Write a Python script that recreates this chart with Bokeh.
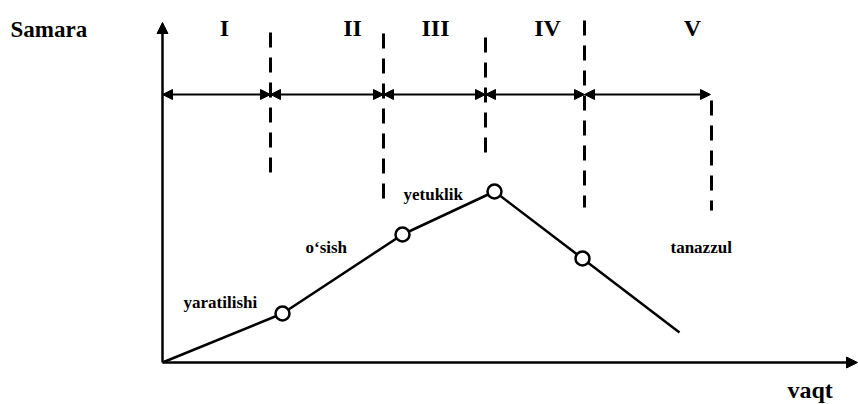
from bokeh.plotting import figure
from bokeh.models import Range1d, Arrow, NormalHead, Label, ColumnDataSource
from bokeh.embed import file_html
from bokeh.resources import INLINE

# ---- data (time units, effect units) ----
stage_labels = ["I", "II", "III", "IV", "V"]
stage_label_x = [6.2, 19.0, 27.3, 38.5, 53.0]
boundaries = [0.0, 10.8, 22.1, 32.3, 42.2, 54.8]
dash_x = [10.8, 22.1, 32.3, 42.2, 54.9]
dash_top = [33.0, 32.9, 32.5, 34.2, 26.2]
dash_bottom = [18.7, 15.5, 20.2, 15.5, 15.2]
arrow_level = 26.8

curve_t = [0.0, 12.0, 24.0, 33.2, 42.0, 51.7]
curve_effect = [0.0, 4.9, 12.8, 17.1, 10.4, 3.0]
marker_t = [12.0, 24.0, 33.2, 42.0]
marker_effect = [4.9, 12.8, 17.1, 10.4]

phase_names = ["yaratilishi", "o\u2018sish", "yetuklik", "tanazzul"]
phase_x = [2.1, 14.3, 24.1, 50.8]
phase_y = [6.0, 11.5, 16.8, 11.5]

y_axis_top = 34.0
x_axis_end = 69.5

FONT = "Liberation Serif"

p = figure(width=858, height=404, output_backend="svg", toolbar_location=None,
           x_range=Range1d(-16.2, 69.6), y_range=Range1d(-4.2, 36.2),
           x_axis_type=None, y_axis_type=None, min_border=0)
p.grid.visible = False
p.outline_line_color = None
p.background_fill_color = "white"
p.border_fill_color = "white"

# axes as arrows
p.add_layout(Arrow(end=NormalHead(size=11, fill_color="black", line_color="black"),
                   x_start=0, y_start=0, x_end=0, y_end=y_axis_top,
                   line_width=2.5, line_color="black"))
p.add_layout(Arrow(end=NormalHead(size=11, fill_color="black", line_color="black"),
                   x_start=0, y_start=0, x_end=x_axis_end, y_end=0,
                   line_width=2.5, line_color="black"))

# dashed stage boundaries
p.segment(x0=dash_x, y0=dash_top, x1=dash_x, y1=dash_bottom,
          line_color="black", line_width=3, line_dash="15 10")

# double-headed interval arrows
src = ColumnDataSource(dict(xs=boundaries[:-1], xe=boundaries[1:],
                            ys=[arrow_level] * (len(boundaries) - 1),
                            ye=[arrow_level] * (len(boundaries) - 1)))
p.add_layout(Arrow(start=NormalHead(size=10, fill_color="black", line_color="black"),
                   end=NormalHead(size=10, fill_color="black", line_color="black"),
                   x_start="xs", y_start="ys", x_end="xe", y_end="ye", source=src,
                   line_width=2.2, line_color="black"))

# life-cycle curve
p.line(curve_t, curve_effect, line_color="black", line_width=2.5)
p.scatter(marker_t, marker_effect, marker="circle", size=14,
          fill_color="white", line_color="black", line_width=2.5)

# texts
p.add_layout(Label(x=-15.2, y=33.3, text="Samara", text_font=FONT,
                   text_font_size="23px", text_font_style="bold",
                   text_baseline="middle", text_color="black"))
for lab, lx in zip(stage_labels, stage_label_x):
    p.add_layout(Label(x=lx, y=33.5, text=lab, text_font=FONT,
                       text_font_size="24px", text_font_style="bold",
                       text_align="center", text_baseline="middle", text_color="black"))
for name, nx, ny in zip(phase_names, phase_x, phase_y):
    p.add_layout(Label(x=nx, y=ny, text=name, text_font=FONT,
                       text_font_size="17px", text_font_style="bold",
                       text_baseline="alphabetic", text_color="black"))
p.add_layout(Label(x=62.5, y=-4.0, text="vaqt", text_font=FONT,
                   text_font_size="24px", text_font_style="bold",
                   text_baseline="bottom", text_color="black"))

open("out.html", "w").write(file_html(p, INLINE))
